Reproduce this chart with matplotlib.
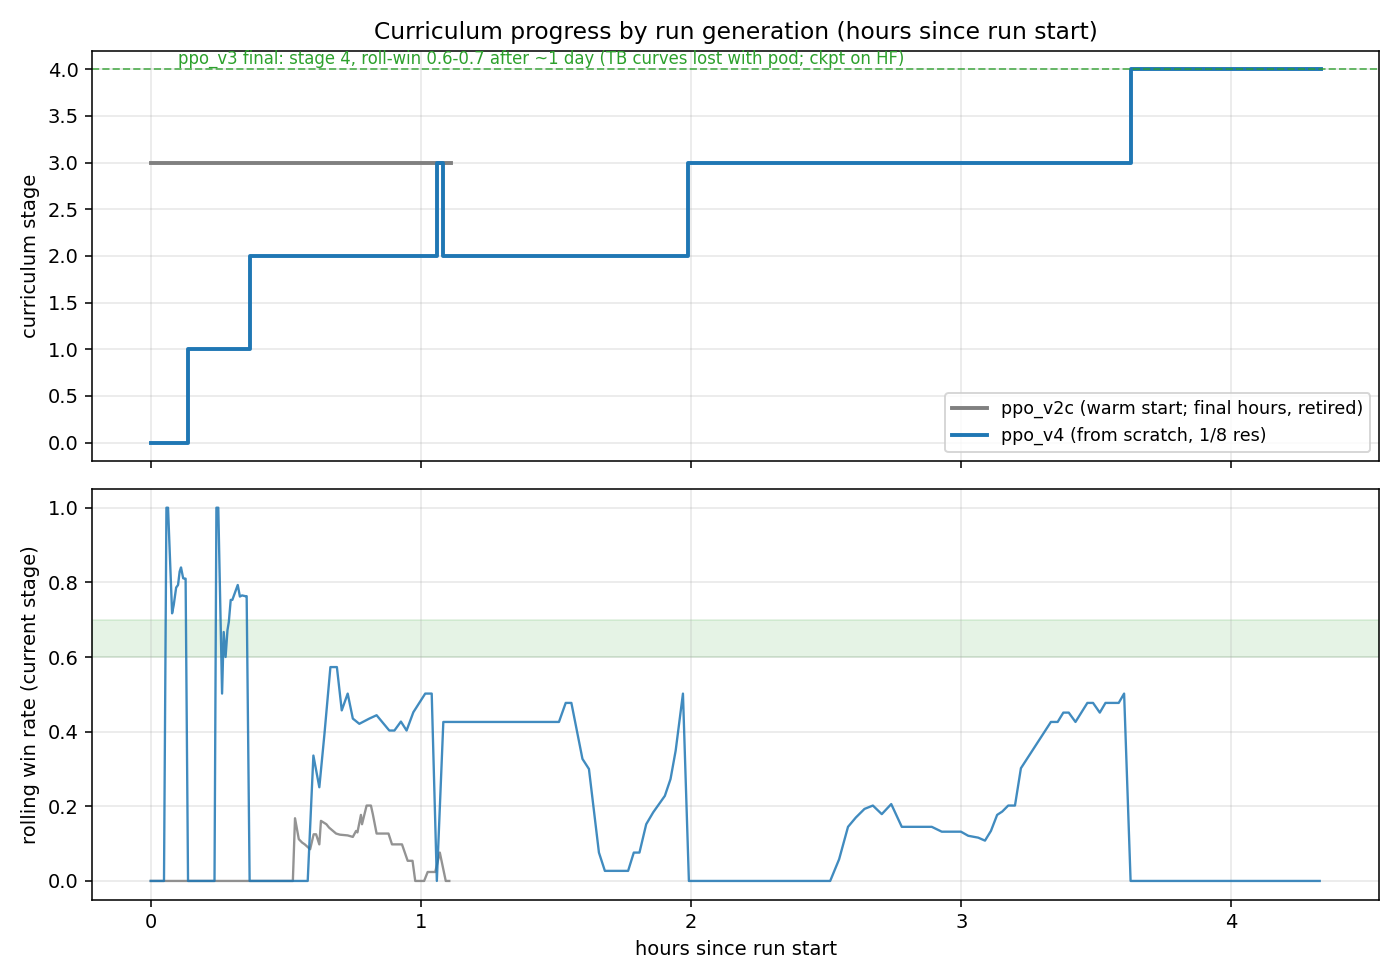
import matplotlib
matplotlib.use("Agg")
import matplotlib.pyplot as plt
import numpy as np

# curriculum stage steps (hours, stage)
v2c_stage_t = [0.0, 1.11]
v2c_stage = [3, 3]
v4_stage_t = [0.0, 0.137, 0.366, 1.06, 1.08, 1.99, 3.63, 4.33]
v4_stage = [0, 1, 2, 3, 2, 3, 4, 4]

# rolling win rate, ppo_v2c
v2c_win_t = [0.0, 0.526, 0.534, 0.548, 0.560, 0.570, 0.590, 0.603, 0.612, 0.624, 0.630,
             0.650, 0.660, 0.686, 0.700, 0.729, 0.748, 0.760, 0.765, 0.778, 0.782,
             0.799, 0.815, 0.822, 0.836, 0.880, 0.893, 0.930, 0.951, 0.969, 0.979,
             1.012, 1.025, 1.053, 1.070, 1.092, 1.105]
v2c_win = [0.0, 0.0, 0.168, 0.112, 0.103, 0.098, 0.085, 0.125, 0.125, 0.098, 0.161,
           0.152, 0.143, 0.127, 0.124, 0.122, 0.118, 0.134, 0.130, 0.177, 0.152,
           0.202, 0.202, 0.179, 0.127, 0.127, 0.098, 0.098, 0.054, 0.054, 0.0,
           0.0, 0.024, 0.024, 0.076, 0.0, 0.0]

# rolling win rate, ppo_v4
v4_win_t = [0.0, 0.049, 0.058, 0.064, 0.079, 0.085, 0.094, 0.101, 0.107, 0.112, 0.120,
            0.124, 0.129, 0.138, 0.236, 0.243, 0.250, 0.264, 0.270, 0.277, 0.284,
            0.289, 0.296, 0.302, 0.313, 0.322, 0.330, 0.338, 0.350, 0.355, 0.366,
            0.581, 0.602, 0.624, 0.643, 0.665, 0.689, 0.707, 0.729, 0.748, 0.772,
            0.809, 0.836, 0.883, 0.902, 0.926, 0.947, 0.972, 1.016, 1.040, 1.059,
            1.083, 1.511, 1.536, 1.557, 1.598, 1.622, 1.659, 1.681, 1.767, 1.788,
            1.809, 1.834, 1.860, 1.903, 1.924, 1.943, 1.970, 1.992, 2.515, 2.548,
            2.581, 2.610, 2.642, 2.673, 2.706, 2.741, 2.780, 2.891, 2.928, 2.999,
            3.026, 3.063, 3.088, 3.110, 3.133, 3.152, 3.174, 3.199, 3.221, 3.332,
            3.357, 3.378, 3.398, 3.423, 3.467, 3.488, 3.513, 3.534, 3.583, 3.603,
            3.627, 4.327]
v4_win = [0.0, 0.0, 1.0, 1.0, 0.717, 0.739, 0.786, 0.793, 0.829, 0.840, 0.811,
          0.810, 0.810, 0.0, 0.0, 1.0, 1.0, 0.502, 0.667, 0.600, 0.672,
          0.694, 0.753, 0.753, 0.775, 0.793, 0.762, 0.765, 0.763, 0.763, 0.0,
          0.0, 0.336, 0.251, 0.394, 0.573, 0.573, 0.457, 0.502, 0.435, 0.421,
          0.435, 0.444, 0.403, 0.403, 0.427, 0.403, 0.452, 0.502, 0.502, 0.0,
          0.426, 0.426, 0.477, 0.477, 0.327, 0.300, 0.076, 0.027, 0.027, 0.076,
          0.076, 0.152, 0.184, 0.228, 0.273, 0.349, 0.502, 0.0, 0.0, 0.058,
          0.145, 0.170, 0.193, 0.202, 0.179, 0.206, 0.145, 0.145, 0.132, 0.132,
          0.121, 0.116, 0.108, 0.134, 0.177, 0.186, 0.202, 0.202, 0.302, 0.426,
          0.426, 0.451, 0.451, 0.426, 0.477, 0.477, 0.451, 0.477, 0.477, 0.502,
          0.0, 0.0]

note = "ppo_v3 final: stage 4, roll-win 0.6-0.7 after ~1 day (TB curves lost with pod; ckpt on HF)"

fig, (ax1, ax2) = plt.subplots(2, 1, figsize=(10, 7), dpi=140, sharex=True)

ax1.plot(v2c_stage_t, v2c_stage, drawstyle="steps-post", color="gray", lw=2,
         label="ppo_v2c (warm start; final hours, retired)")
ax1.plot(v4_stage_t, v4_stage, drawstyle="steps-post", color="tab:blue", lw=2,
         label="ppo_v4 (from scratch, 1/8 res)")
ax1.axhline(4.0, color="tab:green", ls="--", lw=1, alpha=0.7)
ax1.text(0.1, 4.065, note, color="tab:green", fontsize=8.5)
ax1.set_ylabel("curriculum stage")
ax1.set_title("Curriculum progress by run generation (hours since run start)")
ax1.legend(loc="lower right", fontsize=9)
ax1.grid(alpha=0.3)

ax2.axhspan(0.6, 0.7, color="tab:green", alpha=0.12)
ax2.plot(v2c_win_t, v2c_win, color="gray", lw=1.2, alpha=0.85)
ax2.plot(v4_win_t, v4_win, color="tab:blue", lw=1.2, alpha=0.85)
ax2.set_ylabel("rolling win rate (current stage)")
ax2.set_xlabel("hours since run start")
ax2.grid(alpha=0.3)

fig.tight_layout()
fig.savefig("out.png")
